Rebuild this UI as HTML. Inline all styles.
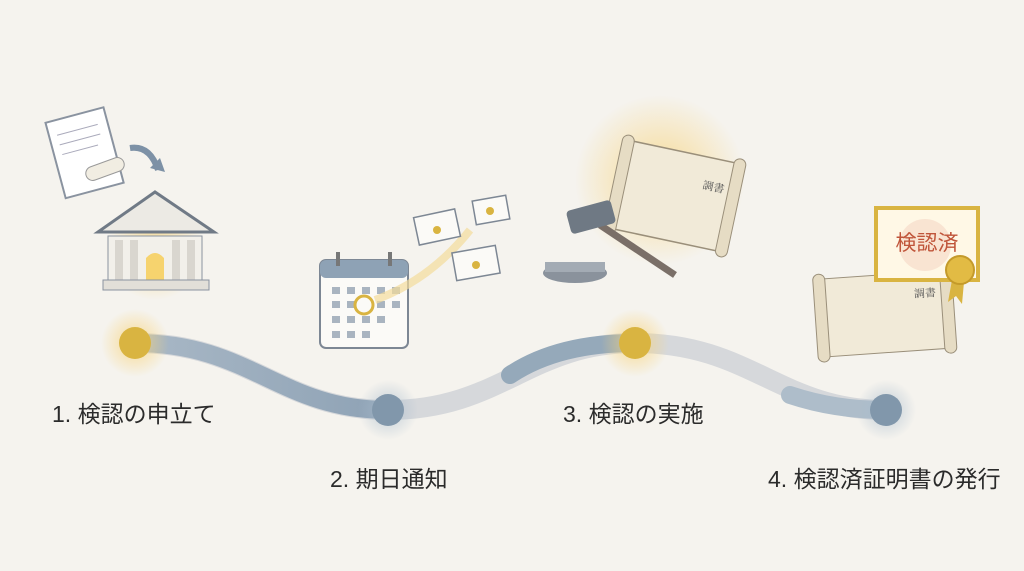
<!DOCTYPE html>
<html><head><meta charset="utf-8"><style>
body{margin:0;width:1024px;height:571px;background:#f5f3ee;overflow:hidden;position:relative;font-family:"Liberation Sans","Noto Sans CJK JP",sans-serif;}
.l{position:absolute;font-size:23px;color:#2b2b2b;white-space:nowrap;}
svg{position:absolute;left:0;top:0}
</style></head><body>
<svg width="1024" height="571" viewBox="0 0 1024 571">
<defs>
<radialGradient id="gl"><stop offset="0" stop-color="#f7d37a" stop-opacity=".8"/><stop offset="1" stop-color="#f7d37a" stop-opacity="0"/></radialGradient>
<radialGradient id="bl"><stop offset="0" stop-color="#a9bccd" stop-opacity=".7"/><stop offset="1" stop-color="#a9bccd" stop-opacity="0"/></radialGradient>
<linearGradient id="s1" x1="135" y1="0" x2="388" y2="0" gradientUnits="userSpaceOnUse"><stop offset="0" stop-color="#a9b8c6"/><stop offset="1" stop-color="#8ea2b5"/></linearGradient>
</defs>
<path d="M135 343 C250 343 280 410 388 410 C500 410 530 343 635 343 C750 343 780 410 886 410" fill="none" stroke="#d6d8db" stroke-width="20" stroke-linecap="round"/>
<path d="M135 343 C250 343 280 410 388 410" fill="none" stroke="url(#s1)" stroke-width="18" stroke-linecap="round"/>
<path d="M510 375 C540 355 580 343 635 343" fill="none" stroke="#95a9ba" stroke-width="18" stroke-linecap="round"/>
<path d="M790 395 C820 405 850 410 886 410" fill="none" stroke="#aebdca" stroke-width="18" stroke-linecap="round"/>
<circle cx="135" cy="343" r="34" fill="url(#gl)"/><circle cx="135" cy="343" r="16" fill="#d9b441"/>
<circle cx="635" cy="343" r="34" fill="url(#gl)"/><circle cx="635" cy="343" r="16" fill="#d9b441"/>
<circle cx="388" cy="410" r="30" fill="url(#bl)"/><circle cx="388" cy="410" r="16" fill="#8197ab"/>
<circle cx="886" cy="410" r="30" fill="url(#bl)"/><circle cx="886" cy="410" r="16" fill="#8197ab"/>
<g transform="rotate(-15 80 155)"><rect x="55" y="115" width="60" height="78" fill="#fff" stroke="#8a93a0" stroke-width="2"/>
<line x1="63" y1="130" x2="105" y2="130" stroke="#aab" /><line x1="63" y1="140" x2="105" y2="140" stroke="#aab"/><line x1="63" y1="150" x2="100" y2="150" stroke="#aab"/></g>
<rect x="85" y="162" width="40" height="14" rx="7" fill="#f1ede2" stroke="#999" transform="rotate(-20 105 169)"/>
<path d="M130 148 Q150 145 158 170" fill="none" stroke="#7d91a6" stroke-width="6"/><path d="M150 168 L165 172 L160 158Z" fill="#7d91a6"/>
<circle cx="155" cy="250" r="50" fill="url(#gl)"/>
<path d="M98 232 L155 192 L214 232Z" fill="#eceae4" stroke="#707a86" stroke-width="3"/>
<rect x="108" y="236" width="94" height="44" fill="#f2f0ea" stroke="#8a93a0"/>
<rect x="115" y="240" width="8" height="40" fill="#d9d6cf"/><rect x="130" y="240" width="8" height="40" fill="#d9d6cf"/><rect x="172" y="240" width="8" height="40" fill="#d9d6cf"/><rect x="187" y="240" width="8" height="40" fill="#d9d6cf"/>
<path d="M146 280 L146 258 Q155 248 164 258 L164 280Z" fill="#f6d36e"/>
<rect x="103" y="280" width="106" height="10" fill="#e2dfd8" stroke="#8a93a0"/>
<rect x="320" y="260" width="88" height="88" rx="6" fill="#fbfaf7" stroke="#7d8794" stroke-width="2"/>
<rect x="320" y="260" width="88" height="18" rx="6" fill="#8ea2b5"/>
<rect x="336" y="252" width="4" height="14" fill="#777"/><rect x="388" y="252" width="4" height="14" fill="#777"/>
<g fill="#a9b4c0">
<rect x="332" y="287" width="8" height="7"/><rect x="347" y="287" width="8" height="7"/><rect x="362" y="287" width="8" height="7"/><rect x="377" y="287" width="8" height="7"/><rect x="392" y="287" width="8" height="7"/>
<rect x="332" y="301" width="8" height="7"/><rect x="347" y="301" width="8" height="7"/><rect x="377" y="301" width="8" height="7"/><rect x="392" y="301" width="8" height="7"/>
<rect x="332" y="316" width="8" height="7"/><rect x="347" y="316" width="8" height="7"/><rect x="362" y="316" width="8" height="7"/><rect x="377" y="316" width="8" height="7"/>
<rect x="332" y="331" width="8" height="7"/><rect x="347" y="331" width="8" height="7"/><rect x="362" y="331" width="8" height="7"/></g>
<circle cx="364" cy="305" r="9" fill="none" stroke="#d9b441" stroke-width="3"/>
<path d="M375 300 Q430 280 470 230" fill="none" stroke="#f3dc9b" stroke-width="8" opacity=".7"/>
<g stroke="#7d8794" stroke-width="1.5" fill="#fbfaf7">
<rect x="416" y="213" width="42" height="28" transform="rotate(-12 437 227)"/><rect x="474" y="198" width="34" height="24" transform="rotate(-10 491 210)"/><rect x="454" y="249" width="44" height="28" transform="rotate(-10 476 263)"/></g>
<circle cx="437" cy="230" r="4" fill="#d9b441"/><circle cx="490" cy="211" r="4" fill="#d9b441"/><circle cx="476" cy="265" r="4" fill="#d9b441"/>
<circle cx="660" cy="180" r="85" fill="url(#gl)"/>
<g transform="rotate(12 670 195)"><rect x="620" y="150" width="110" height="90" fill="#f1ead8" stroke="#9a8f7a" stroke-width="1.5"/>
<rect x="612" y="145" width="12" height="100" rx="6" fill="#e6dcc4" stroke="#9a8f7a"/><rect x="726" y="145" width="12" height="100" rx="6" fill="#e6dcc4" stroke="#9a8f7a"/>
<text x="700" y="182" font-size="11" fill="#555" font-family="Noto Serif CJK SC,serif">調書</text></g>
<line x1="600" y1="225" x2="675" y2="275" stroke="#7a6f68" stroke-width="7"/>
<rect x="568" y="205" width="46" height="24" rx="4" fill="#6f7984" transform="rotate(-15 591 217)"/>
<ellipse cx="575" cy="273" rx="32" ry="10" fill="#8a929c"/><rect x="545" y="262" width="60" height="10" fill="#a3abb4"/>
<g transform="rotate(-4 880 310)"><rect x="825" y="275" width="120" height="78" fill="#f1ead8" stroke="#9a8f7a"/>
<rect x="815" y="270" width="12" height="88" rx="6" fill="#e6dcc4" stroke="#9a8f7a"/><rect x="942" y="270" width="12" height="88" rx="6" fill="#e6dcc4" stroke="#9a8f7a"/>
<text x="915" y="300" font-size="11" fill="#555" font-family="Noto Serif CJK SC,serif">調書</text></g>
<rect x="876" y="208" width="102" height="72" fill="#fff8e6" stroke="#d9b441" stroke-width="4"/>
<circle cx="925" cy="245" r="26" fill="#f6dcc9" opacity=".7"/>
<text x="927" y="250" font-size="21" fill="#c0553a" text-anchor="middle" font-family="Liberation Sans,Noto Sans CJK JP,sans-serif">検認済</text>
<path d="M952 280 L948 302 L956 296 L962 304 L964 282Z" fill="#d9b441"/>
<circle cx="960" cy="270" r="14" fill="#e2bb44" stroke="#c49a2a" stroke-width="2"/>
</svg>
<div class="l" style="left:52px;top:395px">1. 検認の申立て</div>
<div class="l" style="left:330px;top:460px">2. 期日通知</div>
<div class="l" style="left:563px;top:395px">3. 検認の実施</div>
<div class="l" style="left:768px;top:460px">4. 検認済証明書の発行</div>
</body></html>
